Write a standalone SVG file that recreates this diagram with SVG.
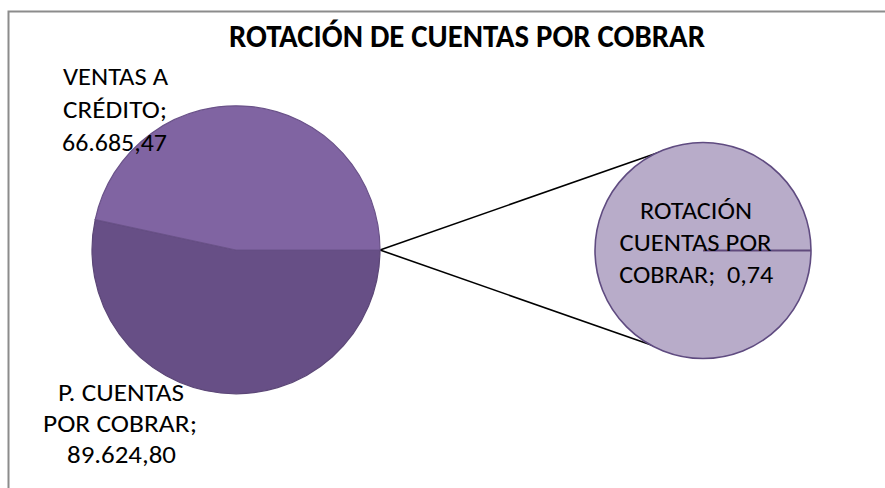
<svg xmlns="http://www.w3.org/2000/svg" width="885" height="488" viewBox="0 0 885 488">
<style>
.t{font-family:"Carlito","Open Sans","Liberation Sans",sans-serif;fill:#000;text-anchor:middle}
.title{font-size:33px;font-weight:bold}
.lbl{font-size:25px;white-space:pre}
.conn{stroke:#000;stroke-width:1.6;fill:none}
</style>
<rect x="0" y="0" width="885" height="488" fill="#fff"/>
<path d="M8.5 488 V11.5 H885" fill="none" stroke="#8c8c8c" stroke-width="2"/>
<text class="t title" x="467" y="47" textLength="476" lengthAdjust="spacingAndGlyphs">ROTACIÓN DE CUENTAS POR COBRAR</text>
<g id="connectors">
<line class="conn" x1="380" y1="250" x2="660" y2="152"/>
<line class="conn" x1="380" y1="250" x2="657" y2="347"/>
</g>
<g id="pcuentas">
<path d="M236 250 L95.2 219.6 A144 144 0 1 0 380 250 Z" fill="#674f86" stroke="#5c4777" stroke-width="1.2"/>
<text class="t lbl" x="121" y="401" textLength="126" lengthAdjust="spacingAndGlyphs">P. CUENTAS</text>
<text class="t lbl" x="120" y="432" textLength="154" lengthAdjust="spacingAndGlyphs">POR COBRAR;</text>
<text class="t lbl" x="121.5" y="463" textLength="109" lengthAdjust="spacingAndGlyphs">89.624,80</text>
</g>
<g id="ventas">
<path d="M236 250 L380 250 A144 144 0 0 0 95.2 219.6 Z" fill="#8064a2" stroke="#6a5289" stroke-width="1.2"/>
<text class="t lbl" x="115.5" y="85" textLength="105" lengthAdjust="spacingAndGlyphs">VENTAS A</text>
<text class="t lbl" x="115" y="118" textLength="104" lengthAdjust="spacingAndGlyphs">CRÉDITO;</text>
<text class="t lbl" x="114.5" y="151" textLength="105" lengthAdjust="spacingAndGlyphs">66.685,47</text>
</g>
<g id="rotacion">
<circle cx="703" cy="250.5" r="108" fill="#b8acc9" stroke="#5f4b80" stroke-width="1.6"/>
<line x1="703" y1="250.5" x2="811" y2="250.5" stroke="#604a7c" stroke-width="2"/>
<text class="t lbl" x="696" y="219" textLength="112" lengthAdjust="spacingAndGlyphs">ROTACIÓN</text>
<text class="t lbl" x="695.5" y="251" textLength="152" lengthAdjust="spacingAndGlyphs">CUENTAS POR</text>
<text class="t lbl" x="696.3" y="283" textLength="154" lengthAdjust="spacingAndGlyphs">COBRAR;  0,74</text>
</g>
</svg>
